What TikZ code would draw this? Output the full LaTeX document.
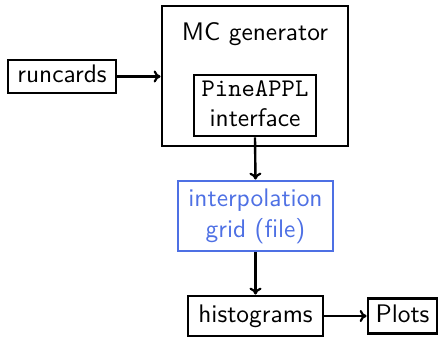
\documentclass[tikz,border=0pt]{standalone}
\usetikzlibrary{arrows.meta}
\definecolor{gridblue}{RGB}{78,112,228}
\newcommand{\bigtxt}[1]{\scalebox{2.54}{\sffamily\begin{tabular}{@{}c@{}}#1\end{tabular}}}
\begin{document}
\begin{tikzpicture}[x=1pt,y=-1pt,
  every node/.style={font=\sffamily},
  boxnode/.style={draw,line width=2.8pt,inner sep=0pt,align=center},
  arr/.style={line width=2.4pt,-{To[length=7pt,width=12pt,line width=2.2pt]}}]
\useasboundingbox (0,0) rectangle (440,337);
\node[boxnode,minimum width=108,minimum height=33] (run) at (62,76.5) {\bigtxt{runcards}};
\node[boxnode,minimum width=186,minimum height=140] (mc) at (255,76) {};
\node (mct) at (255,34) {\bigtxt{MC generator}};
\node[boxnode,minimum width=122,minimum height=61] (pine) at (255,105.5) {\bigtxt{\texttt{PineAPPL}\\interface}};
\node[boxnode,draw=gridblue,text=gridblue,minimum width=155,minimum height=70] (grid) at (255.5,216) {\bigtxt{interpolation\\grid (file)}};
\node[boxnode,minimum width=135,minimum height=40] (hist) at (255.5,316) {\bigtxt{histograms}};
\node[boxnode,minimum width=69,minimum height=35] (plots) at (402.5,316) {\bigtxt{Plots}};
\draw[arr] (run) -- (mc.west |- run);
\draw[arr] (pine.south) -- (grid.north);
\draw[arr] (grid.south) -- (hist.north);
\draw[arr] (hist.east) -- (plots.west);
\end{tikzpicture}
\end{document}
